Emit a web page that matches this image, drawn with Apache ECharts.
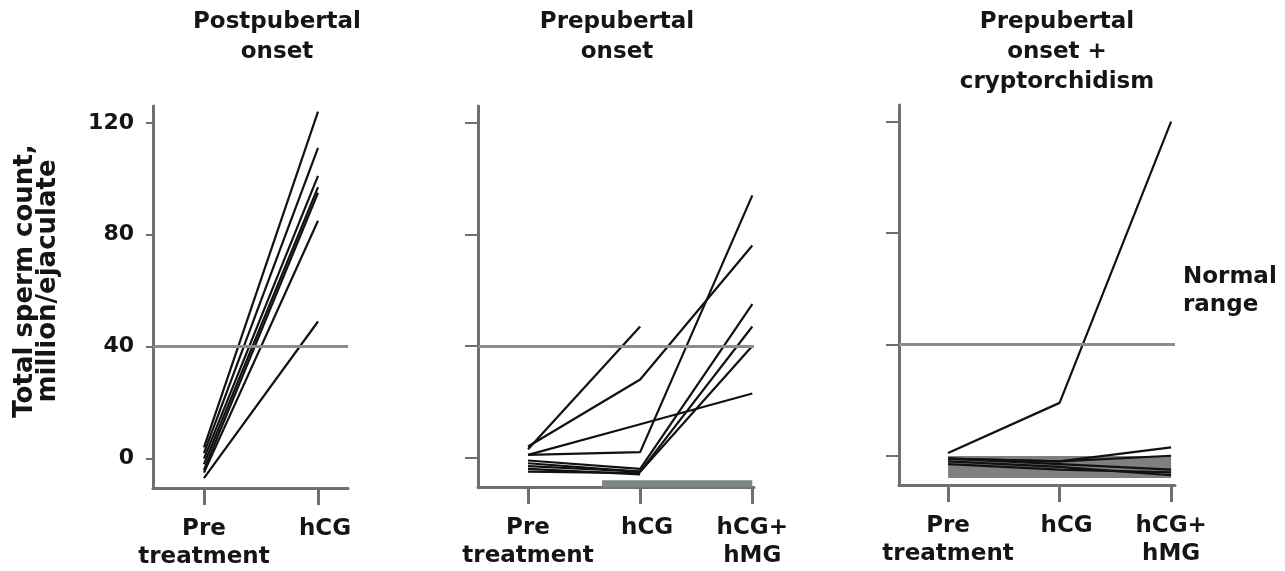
<!DOCTYPE html>
<html>
<head>
<meta charset="utf-8">
<script src="https://cdn.jsdelivr.net/npm/echarts@6/dist/echarts.min.js"></script>
<style>
  html, body { margin: 0; padding: 0; background: #fff; }
  #chart { width: 1285px; height: 571px; }
</style>
</head>
<body>
<div id="chart"></div>
<script>
// ---------- data ----------
const PANEL_TITLES = ['Postpubertal\nonset', 'Prepubertal\nonset', 'Prepubertal\nonset +\ncryptorchidism'];
const Y_NAME = 'Total sperm count,\nmillion/ejaculate';
const NORMAL_LABEL = 'Normal\nrange';
const CATS_POST = ['Pre\ntreatment', 'hCG'];
const CATS_PRE = ['Pre\ntreatment', 'hCG', 'hCG+\nhMG'];
const Y_TICKS = [0, 40, 80, 120];
const NORMAL_MIN = 40;

// Postpubertal onset: each patient [pre, hCG]
const POST_PATIENTS = [
  [4, 124], [2, 111], [0, 101], [-2, 97], [-4, 95], [-5, 85], [-7, 49]
];
// Prepubertal onset: each patient [pre, hCG, hCG+hMG]
const PRE_PATIENTS = [
  [3, 47, null], [4, 28, 76], [1, 12, 23], [1, 2, 94],
  [-1, -4, 55], [-2, -5, 47], [-3, -5, 40], [-4, -6, null], [-5, -5.5, null]
];
// azoospermic group drawn as a grey band along the axis (x from, x to; value)
const PRE_BAND_X = [0.66, 2];
const PRE_BAND_Y = -9.3;
// Prepubertal onset + cryptorchidism: each patient [pre, hCG, hCG+hMG]
const CRYPT_PATIENTS = [
  [1, 19, 120], [-3, -5, -6], [-1, -2, 3], [-1, -2, 0], [-2, -4, -7], [-1, -3, -5]
];
const CRYPT_BAND_X = [0, 2];
const CRYPT_BAND_Y = -4;

// ---------- styles ----------
const FONT = '"DejaVu Sans", Verdana, sans-serif';
const TXT = '#151515';
const AXIS = '#6f6f6f';
const Y_MIN = -10.5, Y_MAX = 126;

const grids = [
  { left: 153, top: 106, width: 195, height: 382, xmin: -0.447, xmax: 1.263, cats: CATS_POST, labels: true, tickLen: 7 },
  { left: 478, top: 106, width: 276, height: 381, xmin: -0.446, xmax: 2.015, cats: CATS_PRE, labels: false, tickLen: 13 },
  { left: 899, top: 105, width: 276, height: 380, xmin: -0.44, xmax: 2.035, cats: CATS_PRE, labels: false, tickLen: 13 }
];

const option = {
  animation: false,
  backgroundColor: '#fff',
  grid: grids.map(g => ({ left: g.left, top: g.top, width: g.width, height: g.height, containLabel: false, outerBoundsMode: 'none' })),
  xAxis: grids.map((g, i) => ({
    type: 'value', gridIndex: i, min: g.xmin, max: g.xmax,
    splitLine: { show: false },
    axisLine: { show: true, onZero: false, lineStyle: { color: AXIS, width: 3 } },
    axisTick: { show: true, customValues: g.cats.map((c, k) => k), length: 17, lineStyle: { color: AXIS, width: 3 } },
    axisLabel: {
      show: true, customValues: g.cats.map((c, k) => k), margin: 27,
      color: TXT, fontFamily: FONT, fontWeight: 'bold', fontSize: 23, lineHeight: 28,
      formatter: v => (g.cats[Math.round(v)] === 'hCG' ? '{o|hCG}' : g.cats[Math.round(v)]),
      rich: { o: { padding: [0, 0, 0, 14], color: TXT, fontFamily: FONT, fontWeight: 'bold', fontSize: 23, lineHeight: 28 } }
    }
  })),
  yAxis: grids.map((g, i) => ({
    type: 'value', gridIndex: i, min: Y_MIN, max: Y_MAX,
    splitLine: { show: false },
    axisLine: { show: true, onZero: false, lineStyle: { color: AXIS, width: 3 } },
    axisTick: { show: true, customValues: Y_TICKS, length: g.tickLen, lineStyle: { color: AXIS, width: 2 } },
    axisLabel: {
      show: g.labels, customValues: Y_TICKS, margin: 19,
      color: TXT, fontFamily: FONT, fontWeight: 'bold', fontSize: 22
    }
  })),
  graphic: [
    ...PANEL_TITLES.map((t, i) => ({
      type: 'text', x: [277, 617, 1057][i], y: 7,
      style: { text: t, font: 'bold 23px ' + FONT, fill: TXT, align: 'center', verticalAlign: 'top', lineHeight: 30 }
    })),
    {
      type: 'text', x: 1183, y: 263,
      style: { text: NORMAL_LABEL, font: 'bold 23px ' + FONT, fill: TXT, align: 'left', verticalAlign: 'top', lineHeight: 28 }
    },
    {
      type: 'text', x: 37, y: 281, rotation: Math.PI / 2,
      style: { text: Y_NAME, font: 'bold 26px ' + FONT, fill: TXT, align: 'center', verticalAlign: 'middle', lineHeight: 23 }
    }
  ],
  series: []
};

function patientSeries(list, idx) {
  return list.map(p => ({
    type: 'line', xAxisIndex: idx, yAxisIndex: idx, z: 4,
    symbol: 'none', silent: true,
    lineStyle: { color: '#111', width: 2.2 },
    data: p.map((v, k) => (v === null ? null : [k, v])).filter(d => d !== null)
  }));
}
function normalSeries(idx) {
  return {
    type: 'line', xAxisIndex: idx, yAxisIndex: idx, z: 1, symbol: 'none', silent: true,
    data: [[0, NORMAL_MIN]],
    markLine: {
      silent: true, symbol: 'none', label: { show: false },
      lineStyle: { color: '#8c8c8c', width: 3, type: 'solid' },
      data: [{ yAxis: NORMAL_MIN }]
    }
  };
}
function bandSeries(idx, xs, y, color, width) {
  return {
    type: 'line', xAxisIndex: idx, yAxisIndex: idx, z: 3, symbol: 'none', silent: true,
    lineStyle: { color: color, width: width, cap: 'butt' },
    data: xs.map(x => [x, y])
  };
}

option.series.push(normalSeries(0), normalSeries(1), normalSeries(2));
option.series.push(bandSeries(1, PRE_BAND_X, PRE_BAND_Y, '#7b8781', 7));
option.series.push(bandSeries(2, CRYPT_BAND_X, CRYPT_BAND_Y, '#808080', 22));
option.series.push(...patientSeries(POST_PATIENTS, 0));
option.series.push(...patientSeries(PRE_PATIENTS, 1));
option.series.push(...patientSeries(CRYPT_PATIENTS, 2));

const chart = echarts.init(document.getElementById('chart'), null, { renderer: 'canvas' });
chart.setOption(option);
</script>
</body>
</html>
